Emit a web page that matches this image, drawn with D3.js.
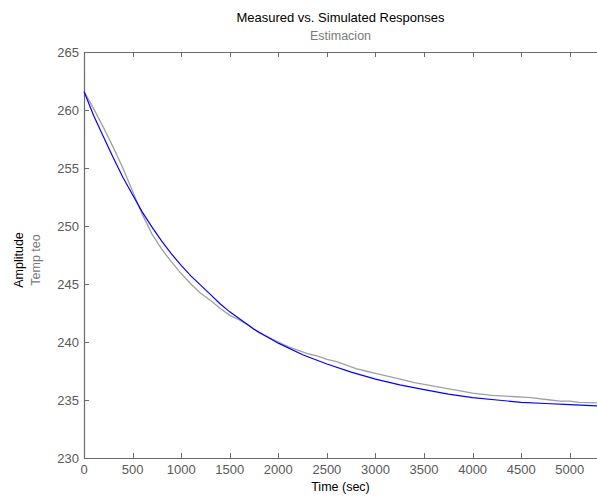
<!DOCTYPE html>
<html lang="en">
  <head>
    <meta charset="UTF-8" />
    <title>Measured vs. Simulated Responses</title>
    <script src="https://d3js.org/d3.v7.min.js"></script>
    <style>
      body { margin: 0; background: #fff; }
      text { font-family: "Liberation Sans", Arial, sans-serif; }
    </style>
  </head>
  <body>
    <script>
      // data
      const simTime = [0, 100, 200, 300, 400, 500, 600, 700, 800, 900, 1000, 1100, 1200, 1300, 1400, 1500, 1600, 1750, 2000, 2250, 2500, 2750, 3000, 3250, 3500, 3750, 4000, 4250, 4500, 4750, 5000, 5280];
      const simValues = [261.6, 259.5, 257.7, 255.9, 254.2, 252.7, 251.2, 249.9, 248.7, 247.6, 246.6, 245.7, 244.9, 244.1, 243.3, 242.6, 242.0, 241.1, 239.9, 238.9, 238.1, 237.4, 236.8, 236.3, 235.9, 235.5, 235.2, 235.0, 234.8, 234.7, 234.6, 234.5];
      const measTime = [0, 100, 200, 300, 400, 500, 600, 700, 800, 900, 1000, 1100, 1200, 1300, 1400, 1500, 1600, 1700, 1800, 1900, 2000, 2100, 2200, 2300, 2400, 2500, 2600, 2700, 2800, 2900, 3000, 3200, 3400, 3600, 3800, 4000, 4200, 4400, 4600, 4800, 4900, 5000, 5100, 5280];
      const measValues = [261.6, 260.1, 258.5, 256.8, 255.0, 253.0, 251.0, 249.3, 248.0, 246.9, 245.9, 245.0, 244.2, 243.6, 242.9, 242.3, 241.9, 241.4, 240.8, 240.4, 240.0, 239.6, 239.3, 239.0, 238.8, 238.5, 238.3, 238.0, 237.7, 237.5, 237.3, 236.9, 236.5, 236.2, 235.9, 235.6, 235.4, 235.3, 235.2, 235.0, 234.9, 234.9, 234.8, 234.75];
      const xTicks = [0, 500, 1000, 1500, 2000, 2500, 3000, 3500, 4000, 4500, 5000];
      const yTicks = [230, 235, 240, 245, 250, 255, 260, 265];

      const width = 597, height = 500;
      const mLeft = 84, mTop = 52, mBottom = 458, mRight = 597;
      const axisColor = "#6b6b6b";
      const labelColor = "#595959";

      const svg = d3.select("body").append("svg")
        .attr("width", width).attr("height", height);

      const x = d3.scaleLinear().domain([0, 5280]).range([mLeft, mRight]);
      const y = d3.scaleLinear().domain([230, 265]).range([mBottom, mTop]);

      // axis lines (box: left, top, bottom)
      svg.append("line").attr("x1", mLeft + 0.5).attr("x2", mLeft + 0.5).attr("y1", mTop).attr("y2", mBottom)
        .attr("stroke", axisColor).attr("stroke-width", 1.2);
      svg.append("line").attr("x1", mLeft).attr("x2", mRight).attr("y1", mTop + 0.5).attr("y2", mTop + 0.5)
        .attr("stroke", axisColor).attr("stroke-width", 1.2);
      svg.append("line").attr("x1", mLeft).attr("x2", mRight).attr("y1", mBottom + 0.5).attr("y2", mBottom + 0.5)
        .attr("stroke", axisColor).attr("stroke-width", 1.2);

      // ticks pointing inward
      const tickLen = 5;
      svg.selectAll(".xt-b").data(xTicks).join("line")
        .attr("x1", d => Math.round(x(d)) + 0.5).attr("x2", d => Math.round(x(d)) + 0.5)
        .attr("y1", mBottom).attr("y2", mBottom - tickLen)
        .attr("stroke", axisColor);
      svg.selectAll(".xt-t").data(xTicks).join("line")
        .attr("x1", d => Math.round(x(d)) + 0.5).attr("x2", d => Math.round(x(d)) + 0.5)
        .attr("y1", mTop).attr("y2", mTop + tickLen)
        .attr("stroke", axisColor);
      svg.selectAll(".yt").data(yTicks).join("line")
        .attr("x1", mLeft).attr("x2", mLeft + tickLen)
        .attr("y1", d => Math.round(y(d)) + 0.5).attr("y2", d => Math.round(y(d)) + 0.5)
        .attr("stroke", axisColor);

      svg.selectAll(".xl").data(xTicks).join("text")
        .attr("x", d => x(d)).attr("y", mBottom + 16)
        .attr("text-anchor", "middle").attr("font-size", 13).attr("fill", labelColor)
        .text(d => d);
      svg.selectAll(".yl").data(yTicks).join("text")
        .attr("x", mLeft - 5).attr("y", d => y(d) + 4.5)
        .attr("text-anchor", "end").attr("font-size", 13).attr("fill", labelColor)
        .text(d => d);

      // curves
      const line = d3.line().x(d => x(d[0])).y(d => y(d[1]));
      svg.append("path")
        .attr("d", line(d3.zip(measTime, measValues)))
        .attr("fill", "none").attr("stroke", "#a0a0a0").attr("stroke-width", 1.3);
      svg.append("path")
        .attr("d", line(d3.zip(simTime, simValues)))
        .attr("fill", "none").attr("stroke", "#0000ff").attr("stroke-width", 1.2);

      // titles
      const cx = (mLeft + mRight) / 2;
      svg.append("text").attr("x", cx).attr("y", 22).attr("text-anchor", "middle")
        .attr("font-size", 13).attr("fill", "#000").text("Measured vs. Simulated Responses");
      svg.append("text").attr("x", cx).attr("y", 40).attr("text-anchor", "middle")
        .attr("font-size", 12.5).attr("fill", "#7a7a7a").text("Estimacion");
      svg.append("text").attr("x", cx).attr("y", 491).attr("text-anchor", "middle")
        .attr("font-size", 12.5).attr("fill", "#000").text("Time (sec)");
      svg.append("text").attr("transform", "translate(23,260) rotate(-90)").attr("text-anchor", "middle")
        .attr("font-size", 12.5).attr("fill", "#000").text("Amplitude");
      svg.append("text").attr("transform", "translate(40,260) rotate(-90)").attr("text-anchor", "middle")
        .attr("font-size", 12.5).attr("fill", "#7a7a7a").text("Temp teo");
    </script>
  </body>
</html>
